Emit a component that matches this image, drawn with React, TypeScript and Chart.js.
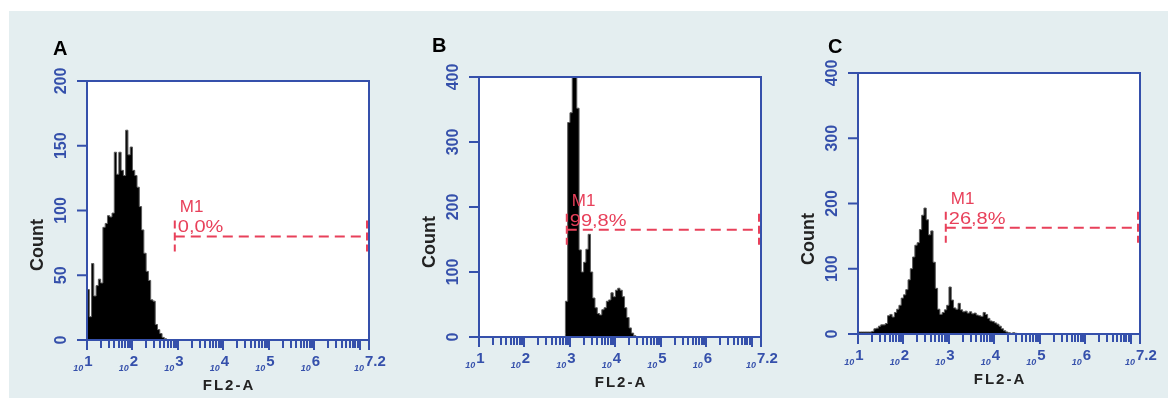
import React, { useEffect, useRef } from "react";
import { Chart, registerables } from "chart.js";

Chart.register(...registerables);

// ---------- data ----------
const BIN_STEP = 0.05; // decades per histogram channel
const xMinExponent = 1;
const xEndExponent = 7.2;
const xDecades = [1, 2, 3, 4, 5, 6];
const xEndLabel = "7.2";

const panelLetters = ["A", "B", "C"];
const yMaxes = [200, 400, 400];
const yTicksA = [0, 50, 100, 150, 200];
const yTicksB = [0, 100, 200, 300, 400];
const yTicksC = [0, 100, 200, 300, 400];

const histAStart = 1.0;
const histACounts = [
  23, 39, 18, 59, 34, 42, 47, 44, 87, 90, 96, 95, 98, 145, 128, 145, 131, 127,
  162, 143, 149, 131, 127, 118, 103, 85, 67, 53, 46, 31, 30, 12, 8, 5, 2, 1,
];
const histBStart = 2.9;
const histBCounts = [
  5, 55, 330, 345, 400, 400, 352, 134, 100, 115, 135, 158, 100, 60, 45, 36, 34,
  42, 45, 55, 57, 68, 62, 72, 75, 72, 62, 45, 30, 14, 6, 2,
];
const histCStart = 1.0;
const histCCounts = [
  3, 3, 3, 3, 3, 3, 3, 4, 8, 9, 12, 14, 14, 16, 28, 30, 26, 33, 38, 44, 55, 60,
  68, 83, 100, 118, 136, 140, 160, 182, 193, 175, 152, 158, 110, 70, 38, 30, 33,
  37, 44, 72, 52, 40, 38, 47, 37, 34, 35, 32, 34, 31, 32, 29, 28, 27, 33, 30, 24,
  20, 19, 17, 15, 12, 8, 5, 3, 2, 1, 2, 1,
];

const markerLabel = "M1";
const markerStart = 2.93;
const markerEnd = 7.2;
const markerLevels = [80, 165, 163];
const markerPercents = ["0,0%", "99,8%", "26,8%"];

const xAxisTitle = "FL2-A";
const yAxisTitle = "Count";

// ---------- layout / style ----------
const W = 1168;
const H = 398;
const BLUE = "#3550ab";
const RED = "#e8405a";
const FONT = "Arial, 'Liberation Sans', sans-serif";

const LAYOUT = [
  { left: 10, width: 390, plot: { l: 87, t: 81, r: 369, b: 340 }, letter: { x: 53, y: 55 } },
  { left: 400, width: 390, plot: { l: 479, t: 77, r: 761, b: 337 }, letter: { x: 432, y: 52 } },
  { left: 790, width: 378, plot: { l: 858, t: 73, r: 1140, b: 334 }, letter: { x: 828, y: 53 } },
];

const PANELS = [
  { start: histAStart, counts: histACounts, yTicks: yTicksA },
  { start: histBStart, counts: histBCounts, yTicks: yTicksB },
  { start: histCStart, counts: histCCounts, yTicks: yTicksC },
];

function buildPoints(start: number, counts: number[]) {
  const pts = [{ x: start, y: 0 }];
  counts.forEach((c, i) => pts.push({ x: start + i * BIN_STEP, y: c }));
  pts.push({ x: start + counts.length * BIN_STEP, y: 0 });
  return pts;
}

function drawPow(ctx: CanvasRenderingContext2D, exp: string, x: number, baseY: number, mode: "center" | "left") {
  ctx.font = `italic bold 9px ${FONT}`;
  const w10 = ctx.measureText("10").width;
  ctx.font = `bold 15px ${FONT}`;
  const wE = ctx.measureText(exp).width;
  const total = w10 + 1 + wE;
  const sx = mode === "center" ? x - total / 2 : x;
  ctx.textAlign = "left";
  ctx.textBaseline = "alphabetic";
  ctx.font = `italic bold 9px ${FONT}`;
  ctx.fillText("10", sx, baseY + 5);
  ctx.font = `bold 15px ${FONT}`;
  ctx.fillText(exp, sx + w10 + 1, baseY);
}

function makePlugin(p: number) {
  return {
    id: "flowDecor" + p,
    beforeDatasetsDraw(chart: any) {
      const { left, top, right, bottom } = chart.chartArea;
      const ctx = chart.ctx;
      ctx.save();
      ctx.fillStyle = "#ffffff";
      ctx.fillRect(left, top, right - left, bottom - top);
      ctx.restore();
    },
    afterDraw(chart: any) {
      const ctx: CanvasRenderingContext2D = chart.ctx;
      const { left, top, right, bottom } = chart.chartArea;
      const xs = chart.scales.x;
      const ys = chart.scales.y;
      const lay = LAYOUT[p];
      ctx.save();

      // frame
      ctx.strokeStyle = BLUE;
      ctx.lineWidth = 2;
      ctx.setLineDash([]);
      ctx.strokeRect(left, top, right - left, bottom - top);

      // y ticks + labels
      ctx.fillStyle = BLUE;
      ctx.lineWidth = 2;
      for (const v of PANELS[p].yTicks) {
        const y = ys.getPixelForValue(v);
        ctx.beginPath();
        ctx.moveTo(left - 10, y);
        ctx.lineTo(left, y);
        ctx.stroke();
        ctx.save();
        ctx.translate(left - 25, y);
        ctx.rotate(-Math.PI / 2);
        ctx.font = `bold 16px ${FONT}`;
        ctx.textAlign = "center";
        ctx.textBaseline = "middle";
        ctx.fillText(String(v), 0, 0);
        ctx.restore();
      }

      // x ticks (log decades)
      ctx.lineWidth = 2;
      const tick = (v: number, len: number) => {
        const x = Math.round(xs.getPixelForValue(v));
        ctx.beginPath();
        ctx.moveTo(x, bottom);
        ctx.lineTo(x, bottom + len);
        ctx.stroke();
      };
      for (const n of xDecades) {
        for (let k = 1; k <= 9; k++) tick(n + Math.log10(k), k === 1 ? 10 : 8);
      }
      tick(7, 10);
      tick(xEndExponent, 10);

      // x labels
      for (const n of xDecades) {
        drawPow(ctx, String(n), xs.getPixelForValue(n) - 4, bottom + 26, "center");
      }
      drawPow(ctx, xEndLabel, xs.getPixelForValue(xEndExponent) - 15, bottom + 26, "left");

      // axis titles
      ctx.fillStyle = "#222222";
      ctx.save();
      ctx.translate(left - 49, bottom - 95);
      ctx.rotate(-Math.PI / 2);
      ctx.font = `bold 18px ${FONT}`;
      ctx.textAlign = "center";
      ctx.textBaseline = "middle";
      ctx.fillText(yAxisTitle, 0, 0);
      ctx.restore();

      ctx.font = `bold 15px ${FONT}`;
      (ctx as any).letterSpacing = "2px";
      ctx.textAlign = "center";
      ctx.textBaseline = "middle";
      ctx.fillText(xAxisTitle, (left + right) / 2 + 1, bottom + 46);
      (ctx as any).letterSpacing = "0px";

      // panel letter
      ctx.fillStyle = "#000000";
      ctx.font = `bold 20px ${FONT}`;
      ctx.textAlign = "left";
      ctx.textBaseline = "alphabetic";
      ctx.fillText(panelLetters[p], lay.letter.x - lay.left, lay.letter.y);

      // M1 marker
      const mx1 = xs.getPixelForValue(markerStart);
      const mx2 = xs.getPixelForValue(markerEnd) - 2;
      const my = ys.getPixelForValue(markerLevels[p]);
      ctx.strokeStyle = RED;
      ctx.fillStyle = RED;
      ctx.lineWidth = 2;
      ctx.setLineDash([10, 6]);
      ctx.beginPath();
      ctx.moveTo(mx1, my);
      ctx.lineTo(mx2, my);
      ctx.stroke();
      ctx.setLineDash([8, 4]);
      for (const xx of [mx1, mx2]) {
        ctx.beginPath();
        ctx.moveTo(xx, my - 16);
        ctx.lineTo(xx, my + 15);
        ctx.stroke();
      }
      ctx.setLineDash([]);
      ctx.font = `17px ${FONT}`;
      ctx.textAlign = "left";
      ctx.textBaseline = "alphabetic";
      ctx.fillText(markerLabel, mx1 + 5, my - 24);
      ctx.save();
      ctx.translate(mx1 + 3, my - 4);
      ctx.scale(1.25, 1);
      ctx.font = `16px ${FONT}`;
      ctx.fillText(markerPercents[p], 0, 0);
      ctx.restore();

      ctx.restore();
    },
  };
}

function Panel({ p }: { p: number }) {
  const ref = useRef<HTMLCanvasElement | null>(null);
  useEffect(() => {
    if (!ref.current) return;
    const lay = LAYOUT[p];
    const panel = PANELS[p];
    const chart = new Chart(ref.current, {
      type: "line",
      data: {
        datasets: [
          {
            data: buildPoints(panel.start, panel.counts),
            stepped: "after",
            fill: "origin",
            backgroundColor: "#000000",
            borderColor: "#5a5a5a",
            borderWidth: 1,
            pointRadius: 0,
            tension: 0,
          } as any,
        ],
      },
      options: {
        responsive: false,
        animation: false,
        events: [],
        layout: {
          padding: {
            left: lay.plot.l - lay.left,
            top: lay.plot.t,
            right: lay.left + lay.width - lay.plot.r,
            bottom: H - lay.plot.b,
          },
        },
        plugins: { legend: { display: false }, tooltip: { enabled: false } },
        scales: {
          x: { type: "linear", min: xMinExponent, max: xEndExponent, display: false },
          y: { type: "linear", min: 0, max: yMaxes[p], display: false },
        },
      },
      plugins: [makePlugin(p)],
    });
    return () => chart.destroy();
  }, [p]);
  const lay = LAYOUT[p];
  return (
    <canvas
      ref={ref}
      width={lay.width}
      height={H}
      style={{ position: "absolute", left: lay.left, top: 0, width: lay.width, height: H }}
    />
  );
}

export default function App() {
  return (
    <div style={{ position: "fixed", left: 0, top: 0, width: W, height: H, background: "#ffffff", overflow: "hidden" }}>
      <div style={{ position: "absolute", left: 9, top: 11, right: 0, bottom: 0, background: "#e4eef0" }} />
      {[0, 1, 2].map((p) => (
        <Panel key={p} p={p} />
      ))}
    </div>
  );
}
